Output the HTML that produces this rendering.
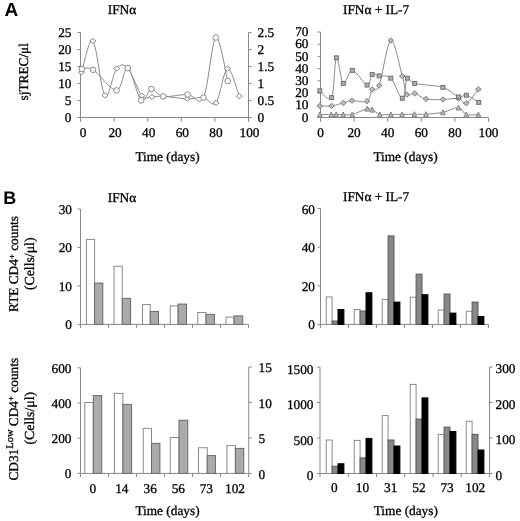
<!DOCTYPE html>
<html><head><meta charset="utf-8"><style>
html,body{margin:0;padding:0;background:#fff;}
svg{display:block;will-change:transform;}
text{font-family:"Liberation Serif", serif;fill:#000;stroke:#000;stroke-width:0.3px;text-rendering:geometricPrecision;}
</style></head><body>
<svg width="520" height="521" viewBox="0 0 520 521">
<rect width="520" height="521" fill="#fff"/>
<text x="4.4" y="16.3" style="font-family:Liberation Sans,sans-serif;font-weight:bold;stroke:none" font-size="19">A</text>
<text x="3.3" y="203.9" style="font-family:Liberation Sans,sans-serif;font-weight:bold;stroke:none" font-size="18">B</text>
<text x="107.75" y="13.75" text-anchor="start" font-size="13.3" >IFN&#945;</text>
<text x="343.00" y="13.80" text-anchor="start" font-size="13.3" >IFN&#945; + IL-7</text>
<text x="107.75" y="201.50" text-anchor="start" font-size="13.3" >IFN&#945;</text>
<text x="343.00" y="201.20" text-anchor="start" font-size="13.3" >IFN&#945; + IL-7</text>
<line x1="80.50" y1="32.50" x2="80.50" y2="117.50" stroke="#888888" stroke-width="1"/>
<line x1="80.50" y1="117.50" x2="248.50" y2="117.50" stroke="#888888" stroke-width="1"/>
<line x1="248.50" y1="32.50" x2="248.50" y2="117.50" stroke="#888888" stroke-width="1"/>
<line x1="77.50" y1="117.50" x2="80.50" y2="117.50" stroke="#888888" stroke-width="1"/>
<line x1="248.50" y1="117.50" x2="251.50" y2="117.50" stroke="#888888" stroke-width="1"/>
<text x="71.50" y="121.70" text-anchor="end" font-size="13.3" >0</text>
<text x="257.50" y="121.70" text-anchor="start" font-size="13.3" >0</text>
<line x1="77.50" y1="100.50" x2="80.50" y2="100.50" stroke="#888888" stroke-width="1"/>
<line x1="248.50" y1="100.50" x2="251.50" y2="100.50" stroke="#888888" stroke-width="1"/>
<text x="71.50" y="104.70" text-anchor="end" font-size="13.3" >5</text>
<text x="257.50" y="104.70" text-anchor="start" font-size="13.3" >0.5</text>
<line x1="77.50" y1="83.50" x2="80.50" y2="83.50" stroke="#888888" stroke-width="1"/>
<line x1="248.50" y1="83.50" x2="251.50" y2="83.50" stroke="#888888" stroke-width="1"/>
<text x="71.50" y="87.70" text-anchor="end" font-size="13.3" >10</text>
<text x="257.50" y="87.70" text-anchor="start" font-size="13.3" >1</text>
<line x1="77.50" y1="66.50" x2="80.50" y2="66.50" stroke="#888888" stroke-width="1"/>
<line x1="248.50" y1="66.50" x2="251.50" y2="66.50" stroke="#888888" stroke-width="1"/>
<text x="71.50" y="70.70" text-anchor="end" font-size="13.3" >15</text>
<text x="257.50" y="70.70" text-anchor="start" font-size="13.3" >1.5</text>
<line x1="77.50" y1="49.50" x2="80.50" y2="49.50" stroke="#888888" stroke-width="1"/>
<line x1="248.50" y1="49.50" x2="251.50" y2="49.50" stroke="#888888" stroke-width="1"/>
<text x="71.50" y="53.70" text-anchor="end" font-size="13.3" >20</text>
<text x="257.50" y="53.70" text-anchor="start" font-size="13.3" >2</text>
<line x1="77.50" y1="32.50" x2="80.50" y2="32.50" stroke="#888888" stroke-width="1"/>
<line x1="248.50" y1="32.50" x2="251.50" y2="32.50" stroke="#888888" stroke-width="1"/>
<text x="71.50" y="36.70" text-anchor="end" font-size="13.3" >25</text>
<text x="257.50" y="36.70" text-anchor="start" font-size="13.3" >2.5</text>
<line x1="80.50" y1="117.50" x2="80.50" y2="121.70" stroke="#888888" stroke-width="1"/>
<text x="83.00" y="137.00" text-anchor="middle" font-size="13.3" >0</text>
<line x1="114.10" y1="117.50" x2="114.10" y2="121.70" stroke="#888888" stroke-width="1"/>
<text x="115.10" y="137.00" text-anchor="middle" font-size="13.3" >20</text>
<line x1="147.70" y1="117.50" x2="147.70" y2="121.70" stroke="#888888" stroke-width="1"/>
<text x="148.70" y="137.00" text-anchor="middle" font-size="13.3" >40</text>
<line x1="181.30" y1="117.50" x2="181.30" y2="121.70" stroke="#888888" stroke-width="1"/>
<text x="182.30" y="137.00" text-anchor="middle" font-size="13.3" >60</text>
<line x1="214.90" y1="117.50" x2="214.90" y2="121.70" stroke="#888888" stroke-width="1"/>
<text x="215.90" y="137.00" text-anchor="middle" font-size="13.3" >80</text>
<line x1="248.50" y1="117.50" x2="248.50" y2="121.70" stroke="#888888" stroke-width="1"/>
<text x="249.50" y="137.00" text-anchor="middle" font-size="13.3" >100</text>
<text x="167.50" y="160.80" text-anchor="middle" font-size="13.3" >Time (days)</text>
<text transform="translate(27.5,71.75) rotate(-90)" text-anchor="middle" font-size="13.3">sjTREC/&#956;l</text>
<path d="M81.50,72.30 C83.39,67.08 88.95,37.15 92.85,41.00 C96.75,44.85 100.92,90.82 104.90,95.40 C108.88,99.98 112.93,73.05 116.75,68.50 C120.57,63.95 123.63,63.58 127.80,68.10 C131.97,72.62 137.72,90.80 141.75,95.60 C145.78,100.40 148.39,96.78 152.00,96.90 C155.61,97.02 157.52,95.98 163.40,96.30 C169.28,96.62 180.62,98.58 187.30,98.80 C193.98,99.02 198.72,96.93 203.50,97.60 C208.28,98.27 212.00,107.63 216.00,102.80 C220.00,97.97 223.62,69.69 227.50,68.60 C231.38,67.51 237.33,91.64 239.30,96.25" fill="none" stroke="#8a8a8a" stroke-width="1"/>
<path d="M82.00,69.00 C83.85,69.13 87.35,66.23 93.10,69.80 C98.85,73.37 110.72,90.68 116.50,90.40 C122.28,90.12 123.70,66.43 127.80,68.10 C131.90,69.77 137.17,96.92 141.10,100.40 C145.03,103.88 147.72,89.67 151.40,89.00 C155.08,88.33 157.17,95.48 163.20,96.40 C169.23,97.32 180.88,94.30 187.60,94.50 C194.32,94.70 198.80,107.10 203.50,97.60 C208.20,88.10 211.77,40.27 215.80,37.50 C219.83,34.73 225.72,73.75 227.70,81.00" fill="none" stroke="#8a8a8a" stroke-width="1"/>
<path d="M78.40,72.30 L81.50,69.80 L84.60,72.30 L81.50,74.80 Z" fill="#fff" stroke="#8a8a8a" stroke-width="1"/>
<path d="M89.75,41.00 L92.85,38.50 L95.95,41.00 L92.85,43.50 Z" fill="#fff" stroke="#8a8a8a" stroke-width="1"/>
<path d="M101.80,95.40 L104.90,92.90 L108.00,95.40 L104.90,97.90 Z" fill="#fff" stroke="#8a8a8a" stroke-width="1"/>
<path d="M113.65,68.50 L116.75,66.00 L119.85,68.50 L116.75,71.00 Z" fill="#fff" stroke="#8a8a8a" stroke-width="1"/>
<path d="M124.70,68.10 L127.80,65.60 L130.90,68.10 L127.80,70.60 Z" fill="#fff" stroke="#8a8a8a" stroke-width="1"/>
<path d="M138.65,95.60 L141.75,93.10 L144.85,95.60 L141.75,98.10 Z" fill="#fff" stroke="#8a8a8a" stroke-width="1"/>
<path d="M148.90,96.90 L152.00,94.40 L155.10,96.90 L152.00,99.40 Z" fill="#fff" stroke="#8a8a8a" stroke-width="1"/>
<path d="M160.30,96.30 L163.40,93.80 L166.50,96.30 L163.40,98.80 Z" fill="#fff" stroke="#8a8a8a" stroke-width="1"/>
<path d="M184.20,98.80 L187.30,96.30 L190.40,98.80 L187.30,101.30 Z" fill="#fff" stroke="#8a8a8a" stroke-width="1"/>
<path d="M200.40,97.60 L203.50,95.10 L206.60,97.60 L203.50,100.10 Z" fill="#fff" stroke="#8a8a8a" stroke-width="1"/>
<path d="M212.90,102.80 L216.00,100.30 L219.10,102.80 L216.00,105.30 Z" fill="#fff" stroke="#8a8a8a" stroke-width="1"/>
<path d="M224.40,68.60 L227.50,66.10 L230.60,68.60 L227.50,71.10 Z" fill="#fff" stroke="#8a8a8a" stroke-width="1"/>
<path d="M236.20,96.25 L239.30,93.75 L242.40,96.25 L239.30,98.75 Z" fill="#fff" stroke="#8a8a8a" stroke-width="1"/>
<circle cx="82.00" cy="69.00" r="2.8" fill="#fff" stroke="#8a8a8a" stroke-width="1"/>
<circle cx="93.10" cy="69.80" r="2.8" fill="#fff" stroke="#8a8a8a" stroke-width="1"/>
<circle cx="116.50" cy="90.40" r="2.8" fill="#fff" stroke="#8a8a8a" stroke-width="1"/>
<circle cx="127.80" cy="68.10" r="2.8" fill="#fff" stroke="#8a8a8a" stroke-width="1"/>
<circle cx="141.10" cy="100.40" r="2.8" fill="#fff" stroke="#8a8a8a" stroke-width="1"/>
<circle cx="151.40" cy="89.00" r="2.8" fill="#fff" stroke="#8a8a8a" stroke-width="1"/>
<circle cx="163.20" cy="96.40" r="2.8" fill="#fff" stroke="#8a8a8a" stroke-width="1"/>
<circle cx="187.60" cy="94.50" r="2.8" fill="#fff" stroke="#8a8a8a" stroke-width="1"/>
<circle cx="203.50" cy="97.60" r="2.8" fill="#fff" stroke="#8a8a8a" stroke-width="1"/>
<circle cx="215.80" cy="37.50" r="2.8" fill="#fff" stroke="#8a8a8a" stroke-width="1"/>
<circle cx="227.70" cy="81.00" r="2.8" fill="#fff" stroke="#8a8a8a" stroke-width="1"/>
<line x1="320.50" y1="32.00" x2="320.50" y2="117.50" stroke="#888888" stroke-width="1"/>
<line x1="320.50" y1="117.50" x2="488.50" y2="117.50" stroke="#888888" stroke-width="1"/>
<line x1="317.50" y1="117.50" x2="320.50" y2="117.50" stroke="#888888" stroke-width="1"/>
<text x="308.50" y="121.70" text-anchor="end" font-size="13.3" >0</text>
<line x1="317.50" y1="105.29" x2="320.50" y2="105.29" stroke="#888888" stroke-width="1"/>
<text x="308.50" y="109.49" text-anchor="end" font-size="13.3" >10</text>
<line x1="317.50" y1="93.07" x2="320.50" y2="93.07" stroke="#888888" stroke-width="1"/>
<text x="308.50" y="97.27" text-anchor="end" font-size="13.3" >20</text>
<line x1="317.50" y1="80.86" x2="320.50" y2="80.86" stroke="#888888" stroke-width="1"/>
<text x="308.50" y="85.06" text-anchor="end" font-size="13.3" >30</text>
<line x1="317.50" y1="68.64" x2="320.50" y2="68.64" stroke="#888888" stroke-width="1"/>
<text x="308.50" y="72.84" text-anchor="end" font-size="13.3" >40</text>
<line x1="317.50" y1="56.43" x2="320.50" y2="56.43" stroke="#888888" stroke-width="1"/>
<text x="308.50" y="60.63" text-anchor="end" font-size="13.3" >50</text>
<line x1="317.50" y1="44.21" x2="320.50" y2="44.21" stroke="#888888" stroke-width="1"/>
<text x="308.50" y="48.41" text-anchor="end" font-size="13.3" >60</text>
<line x1="317.50" y1="32.00" x2="320.50" y2="32.00" stroke="#888888" stroke-width="1"/>
<text x="308.50" y="36.20" text-anchor="end" font-size="13.3" >70</text>
<line x1="320.50" y1="117.50" x2="320.50" y2="121.70" stroke="#888888" stroke-width="1"/>
<text x="320.50" y="137.00" text-anchor="middle" font-size="13.3" >0</text>
<line x1="354.10" y1="117.50" x2="354.10" y2="121.70" stroke="#888888" stroke-width="1"/>
<text x="354.10" y="137.00" text-anchor="middle" font-size="13.3" >20</text>
<line x1="387.70" y1="117.50" x2="387.70" y2="121.70" stroke="#888888" stroke-width="1"/>
<text x="387.70" y="137.00" text-anchor="middle" font-size="13.3" >40</text>
<line x1="421.30" y1="117.50" x2="421.30" y2="121.70" stroke="#888888" stroke-width="1"/>
<text x="421.30" y="137.00" text-anchor="middle" font-size="13.3" >60</text>
<line x1="454.90" y1="117.50" x2="454.90" y2="121.70" stroke="#888888" stroke-width="1"/>
<text x="454.90" y="137.00" text-anchor="middle" font-size="13.3" >80</text>
<line x1="488.50" y1="117.50" x2="488.50" y2="121.70" stroke="#888888" stroke-width="1"/>
<text x="488.50" y="137.00" text-anchor="middle" font-size="13.3" >100</text>
<text x="405.50" y="160.80" text-anchor="middle" font-size="13.3" >Time (days)</text>
<path d="M319.80,114.50 C321.71,114.50 328.51,114.50 331.25,114.50 C333.99,114.50 334.27,114.50 336.25,114.50 C338.23,114.50 340.43,114.50 343.10,114.50 C345.77,114.50 348.23,115.48 352.25,114.50 C356.27,113.52 363.86,109.42 367.20,108.60 C370.54,107.78 370.20,108.63 372.30,109.60 C374.40,110.57 376.70,113.58 379.80,114.40 C382.90,115.22 387.18,114.50 390.90,114.50 C394.62,114.50 398.18,114.45 402.10,114.40 C406.02,114.35 410.42,114.23 414.40,114.20 C418.38,114.17 421.25,114.52 426.00,114.20 C430.75,113.88 437.48,113.40 442.90,112.30 C448.32,111.20 454.60,107.23 458.50,107.60 C462.40,107.97 462.98,113.35 466.30,114.50 C469.62,115.65 476.38,114.50 478.40,114.50" fill="none" stroke="#8a8a8a" stroke-width="1"/>
<path d="M319.80,105.90 C321.77,105.90 327.68,106.40 331.60,105.90 C335.52,105.40 339.90,103.77 343.30,102.90 C346.70,102.03 348.03,100.98 352.00,100.70 C355.97,100.42 363.73,103.08 367.10,101.20 C370.47,99.32 370.18,92.00 372.20,89.40 C374.22,86.80 376.10,93.75 379.20,85.60 C382.30,77.45 386.95,42.08 390.80,40.50 C394.65,38.92 399.62,67.08 402.30,76.10 C404.98,85.12 404.83,91.72 406.90,94.60 C408.97,97.48 411.52,92.67 414.70,93.40 C417.88,94.13 421.30,97.98 426.00,99.00 C430.70,100.02 437.48,99.57 442.90,99.50 C448.32,99.43 454.60,97.97 458.50,98.60 C462.40,99.23 462.98,104.83 466.30,103.30 C469.62,101.77 476.38,91.72 478.40,89.40" fill="none" stroke="#8a8a8a" stroke-width="1"/>
<path d="M319.80,90.80 C321.77,91.93 328.83,103.10 331.60,97.60 C334.37,92.10 334.45,60.17 336.40,57.80 C338.35,55.43 340.65,81.30 343.30,83.40 C345.95,85.50 348.33,70.12 352.30,70.40 C356.27,70.68 363.78,84.43 367.10,85.10 C370.42,85.77 370.18,75.93 372.20,74.40 C374.22,72.87 376.10,75.27 379.20,75.90 C382.30,76.53 386.95,74.47 390.80,78.20 C394.65,81.93 399.55,98.30 402.30,98.30 C405.05,98.30 405.23,80.68 407.30,78.20 C409.37,75.72 408.77,81.87 414.70,83.40 C420.63,84.93 435.60,85.15 442.90,87.40 C450.20,89.65 454.60,95.60 458.50,96.90 C462.40,98.20 462.93,94.28 466.30,95.20 C469.67,96.12 476.63,101.20 478.70,102.40" fill="none" stroke="#8a8a8a" stroke-width="1"/>
<path d="M317.45,116.97 L319.80,112.03 L322.15,116.97 Z" fill="#c0c0c0" stroke="#808080" stroke-width="1"/>
<path d="M328.90,116.97 L331.25,112.03 L333.60,116.97 Z" fill="#c0c0c0" stroke="#808080" stroke-width="1"/>
<path d="M333.90,116.97 L336.25,112.03 L338.60,116.97 Z" fill="#c0c0c0" stroke="#808080" stroke-width="1"/>
<path d="M340.75,116.97 L343.10,112.03 L345.45,116.97 Z" fill="#c0c0c0" stroke="#808080" stroke-width="1"/>
<path d="M349.90,116.97 L352.25,112.03 L354.60,116.97 Z" fill="#c0c0c0" stroke="#808080" stroke-width="1"/>
<path d="M364.85,111.07 L367.20,106.13 L369.55,111.07 Z" fill="#c0c0c0" stroke="#808080" stroke-width="1"/>
<path d="M369.95,112.07 L372.30,107.13 L374.65,112.07 Z" fill="#c0c0c0" stroke="#808080" stroke-width="1"/>
<path d="M377.45,116.87 L379.80,111.93 L382.15,116.87 Z" fill="#c0c0c0" stroke="#808080" stroke-width="1"/>
<path d="M388.55,116.97 L390.90,112.03 L393.25,116.97 Z" fill="#c0c0c0" stroke="#808080" stroke-width="1"/>
<path d="M399.75,116.87 L402.10,111.93 L404.45,116.87 Z" fill="#c0c0c0" stroke="#808080" stroke-width="1"/>
<path d="M412.05,116.67 L414.40,111.73 L416.75,116.67 Z" fill="#c0c0c0" stroke="#808080" stroke-width="1"/>
<path d="M423.65,116.67 L426.00,111.73 L428.35,116.67 Z" fill="#c0c0c0" stroke="#808080" stroke-width="1"/>
<path d="M440.55,114.77 L442.90,109.83 L445.25,114.77 Z" fill="#c0c0c0" stroke="#808080" stroke-width="1"/>
<path d="M456.15,110.07 L458.50,105.13 L460.85,110.07 Z" fill="#c0c0c0" stroke="#808080" stroke-width="1"/>
<path d="M463.95,116.97 L466.30,112.03 L468.65,116.97 Z" fill="#c0c0c0" stroke="#808080" stroke-width="1"/>
<path d="M476.05,116.97 L478.40,112.03 L480.75,116.97 Z" fill="#c0c0c0" stroke="#808080" stroke-width="1"/>
<path d="M317.00,105.90 L319.80,103.30 L322.60,105.90 L319.80,108.50 Z" fill="#bcbcbc" stroke="#7c7c7c" stroke-width="1"/>
<path d="M328.80,105.90 L331.60,103.30 L334.40,105.90 L331.60,108.50 Z" fill="#bcbcbc" stroke="#7c7c7c" stroke-width="1"/>
<path d="M340.50,102.90 L343.30,100.30 L346.10,102.90 L343.30,105.50 Z" fill="#bcbcbc" stroke="#7c7c7c" stroke-width="1"/>
<path d="M349.20,100.70 L352.00,98.10 L354.80,100.70 L352.00,103.30 Z" fill="#bcbcbc" stroke="#7c7c7c" stroke-width="1"/>
<path d="M364.30,101.20 L367.10,98.60 L369.90,101.20 L367.10,103.80 Z" fill="#bcbcbc" stroke="#7c7c7c" stroke-width="1"/>
<path d="M369.40,89.40 L372.20,86.80 L375.00,89.40 L372.20,92.00 Z" fill="#bcbcbc" stroke="#7c7c7c" stroke-width="1"/>
<path d="M376.40,85.60 L379.20,83.00 L382.00,85.60 L379.20,88.20 Z" fill="#bcbcbc" stroke="#7c7c7c" stroke-width="1"/>
<path d="M388.00,40.50 L390.80,37.90 L393.60,40.50 L390.80,43.10 Z" fill="#bcbcbc" stroke="#7c7c7c" stroke-width="1"/>
<path d="M399.50,76.10 L402.30,73.50 L405.10,76.10 L402.30,78.70 Z" fill="#bcbcbc" stroke="#7c7c7c" stroke-width="1"/>
<path d="M404.10,94.60 L406.90,92.00 L409.70,94.60 L406.90,97.20 Z" fill="#bcbcbc" stroke="#7c7c7c" stroke-width="1"/>
<path d="M411.90,93.40 L414.70,90.80 L417.50,93.40 L414.70,96.00 Z" fill="#bcbcbc" stroke="#7c7c7c" stroke-width="1"/>
<path d="M423.20,99.00 L426.00,96.40 L428.80,99.00 L426.00,101.60 Z" fill="#bcbcbc" stroke="#7c7c7c" stroke-width="1"/>
<path d="M440.10,99.50 L442.90,96.90 L445.70,99.50 L442.90,102.10 Z" fill="#bcbcbc" stroke="#7c7c7c" stroke-width="1"/>
<path d="M455.70,98.60 L458.50,96.00 L461.30,98.60 L458.50,101.20 Z" fill="#bcbcbc" stroke="#7c7c7c" stroke-width="1"/>
<path d="M463.50,103.30 L466.30,100.70 L469.10,103.30 L466.30,105.90 Z" fill="#bcbcbc" stroke="#7c7c7c" stroke-width="1"/>
<path d="M475.60,89.40 L478.40,86.80 L481.20,89.40 L478.40,92.00 Z" fill="#bcbcbc" stroke="#7c7c7c" stroke-width="1"/>
<rect x="317.85" y="88.85" width="3.9" height="3.9" fill="#b0b0b0" stroke="#707070" stroke-width="1"/>
<rect x="329.65" y="95.65" width="3.9" height="3.9" fill="#b0b0b0" stroke="#707070" stroke-width="1"/>
<rect x="334.45" y="55.85" width="3.9" height="3.9" fill="#b0b0b0" stroke="#707070" stroke-width="1"/>
<rect x="341.35" y="81.45" width="3.9" height="3.9" fill="#b0b0b0" stroke="#707070" stroke-width="1"/>
<rect x="350.35" y="68.45" width="3.9" height="3.9" fill="#b0b0b0" stroke="#707070" stroke-width="1"/>
<rect x="365.15" y="83.15" width="3.9" height="3.9" fill="#b0b0b0" stroke="#707070" stroke-width="1"/>
<rect x="370.25" y="72.45" width="3.9" height="3.9" fill="#b0b0b0" stroke="#707070" stroke-width="1"/>
<rect x="377.25" y="73.95" width="3.9" height="3.9" fill="#b0b0b0" stroke="#707070" stroke-width="1"/>
<rect x="388.85" y="76.25" width="3.9" height="3.9" fill="#b0b0b0" stroke="#707070" stroke-width="1"/>
<rect x="400.35" y="96.35" width="3.9" height="3.9" fill="#b0b0b0" stroke="#707070" stroke-width="1"/>
<rect x="405.35" y="76.25" width="3.9" height="3.9" fill="#b0b0b0" stroke="#707070" stroke-width="1"/>
<rect x="412.75" y="81.45" width="3.9" height="3.9" fill="#b0b0b0" stroke="#707070" stroke-width="1"/>
<rect x="440.95" y="85.45" width="3.9" height="3.9" fill="#b0b0b0" stroke="#707070" stroke-width="1"/>
<rect x="456.55" y="94.95" width="3.9" height="3.9" fill="#b0b0b0" stroke="#707070" stroke-width="1"/>
<rect x="464.35" y="93.25" width="3.9" height="3.9" fill="#b0b0b0" stroke="#707070" stroke-width="1"/>
<rect x="476.75" y="100.45" width="3.9" height="3.9" fill="#b0b0b0" stroke="#707070" stroke-width="1"/>
<line x1="80.50" y1="209.00" x2="80.50" y2="324.40" stroke="#888888" stroke-width="1"/>
<line x1="80.50" y1="324.40" x2="248.50" y2="324.40" stroke="#888888" stroke-width="1"/>
<line x1="77.50" y1="324.40" x2="80.50" y2="324.40" stroke="#888888" stroke-width="1"/>
<text x="72.00" y="329.40" text-anchor="end" font-size="13.3" >0</text>
<line x1="77.50" y1="285.93" x2="80.50" y2="285.93" stroke="#888888" stroke-width="1"/>
<text x="72.00" y="290.93" text-anchor="end" font-size="13.3" >10</text>
<line x1="77.50" y1="247.47" x2="80.50" y2="247.47" stroke="#888888" stroke-width="1"/>
<text x="72.00" y="252.47" text-anchor="end" font-size="13.3" >20</text>
<line x1="77.50" y1="209.00" x2="80.50" y2="209.00" stroke="#888888" stroke-width="1"/>
<text x="72.00" y="214.00" text-anchor="end" font-size="13.3" >30</text>
<line x1="80.50" y1="324.40" x2="80.50" y2="327.90" stroke="#888888" stroke-width="1"/>
<line x1="108.50" y1="324.40" x2="108.50" y2="327.90" stroke="#888888" stroke-width="1"/>
<line x1="136.50" y1="324.40" x2="136.50" y2="327.90" stroke="#888888" stroke-width="1"/>
<line x1="164.50" y1="324.40" x2="164.50" y2="327.90" stroke="#888888" stroke-width="1"/>
<line x1="192.50" y1="324.40" x2="192.50" y2="327.90" stroke="#888888" stroke-width="1"/>
<line x1="220.50" y1="324.40" x2="220.50" y2="327.90" stroke="#888888" stroke-width="1"/>
<line x1="248.50" y1="324.40" x2="248.50" y2="327.90" stroke="#888888" stroke-width="1"/>
<text transform="translate(18.4,264) rotate(-90)" text-anchor="middle" font-size="13.3">RTE CD4<tspan dy="-3.6" font-size="9">+</tspan><tspan dy="3.6"> counts</tspan></text>
<text transform="translate(33.6,263.8) rotate(-90)" text-anchor="middle" font-size="13.8">(Cells/&#956;l)</text>
<rect x="86.40" y="239.40" width="8.20" height="85.00" fill="#ffffff" stroke="#8a8a8a" stroke-width="1"/>
<rect x="94.60" y="283.10" width="8.20" height="41.30" fill="#aaaaaa" stroke="#6a6a6a" stroke-width="1"/>
<rect x="114.00" y="266.25" width="8.25" height="58.15" fill="#ffffff" stroke="#8a8a8a" stroke-width="1"/>
<rect x="122.25" y="298.40" width="8.35" height="26.00" fill="#aaaaaa" stroke="#6a6a6a" stroke-width="1"/>
<rect x="142.50" y="304.60" width="7.75" height="19.80" fill="#ffffff" stroke="#8a8a8a" stroke-width="1"/>
<rect x="150.25" y="311.50" width="8.25" height="12.90" fill="#aaaaaa" stroke="#6a6a6a" stroke-width="1"/>
<rect x="170.25" y="305.90" width="7.85" height="18.50" fill="#ffffff" stroke="#8a8a8a" stroke-width="1"/>
<rect x="178.10" y="304.10" width="8.40" height="20.30" fill="#aaaaaa" stroke="#6a6a6a" stroke-width="1"/>
<rect x="197.75" y="312.50" width="8.25" height="11.90" fill="#ffffff" stroke="#8a8a8a" stroke-width="1"/>
<rect x="206.00" y="314.40" width="8.40" height="10.00" fill="#aaaaaa" stroke="#6a6a6a" stroke-width="1"/>
<rect x="226.00" y="317.10" width="8.00" height="7.30" fill="#ffffff" stroke="#8a8a8a" stroke-width="1"/>
<rect x="234.00" y="315.90" width="8.75" height="8.50" fill="#aaaaaa" stroke="#6a6a6a" stroke-width="1"/>
<line x1="320.50" y1="208.50" x2="320.50" y2="324.40" stroke="#888888" stroke-width="1"/>
<line x1="320.50" y1="324.40" x2="488.50" y2="324.40" stroke="#888888" stroke-width="1"/>
<line x1="317.50" y1="324.40" x2="320.50" y2="324.40" stroke="#888888" stroke-width="1"/>
<text x="315.00" y="329.40" text-anchor="end" font-size="13.3" >0</text>
<line x1="317.50" y1="285.77" x2="320.50" y2="285.77" stroke="#888888" stroke-width="1"/>
<text x="315.00" y="290.77" text-anchor="end" font-size="13.3" >20</text>
<line x1="317.50" y1="247.13" x2="320.50" y2="247.13" stroke="#888888" stroke-width="1"/>
<text x="315.00" y="252.13" text-anchor="end" font-size="13.3" >40</text>
<line x1="317.50" y1="208.50" x2="320.50" y2="208.50" stroke="#888888" stroke-width="1"/>
<text x="315.00" y="213.50" text-anchor="end" font-size="13.3" >60</text>
<line x1="320.50" y1="324.40" x2="320.50" y2="327.90" stroke="#888888" stroke-width="1"/>
<line x1="348.50" y1="324.40" x2="348.50" y2="327.90" stroke="#888888" stroke-width="1"/>
<line x1="376.50" y1="324.40" x2="376.50" y2="327.90" stroke="#888888" stroke-width="1"/>
<line x1="404.50" y1="324.40" x2="404.50" y2="327.90" stroke="#888888" stroke-width="1"/>
<line x1="432.50" y1="324.40" x2="432.50" y2="327.90" stroke="#888888" stroke-width="1"/>
<line x1="460.50" y1="324.40" x2="460.50" y2="327.90" stroke="#888888" stroke-width="1"/>
<line x1="488.50" y1="324.40" x2="488.50" y2="327.90" stroke="#888888" stroke-width="1"/>
<rect x="326.25" y="296.90" width="5.85" height="27.50" fill="#ffffff" stroke="#8a8a8a" stroke-width="1"/>
<rect x="332.10" y="321.00" width="5.90" height="3.40" fill="#888888" stroke="#5a5a5a" stroke-width="1"/>
<rect x="338.00" y="309.50" width="5.90" height="14.90" fill="#000000" stroke="#000000" stroke-width="1"/>
<rect x="354.25" y="309.50" width="5.85" height="14.90" fill="#ffffff" stroke="#8a8a8a" stroke-width="1"/>
<rect x="360.10" y="311.00" width="5.90" height="13.40" fill="#888888" stroke="#5a5a5a" stroke-width="1"/>
<rect x="366.00" y="292.75" width="5.90" height="31.65" fill="#000000" stroke="#000000" stroke-width="1"/>
<rect x="382.25" y="299.40" width="5.85" height="25.00" fill="#ffffff" stroke="#8a8a8a" stroke-width="1"/>
<rect x="388.10" y="235.90" width="5.90" height="88.50" fill="#888888" stroke="#5a5a5a" stroke-width="1"/>
<rect x="394.00" y="302.10" width="5.90" height="22.30" fill="#000000" stroke="#000000" stroke-width="1"/>
<rect x="410.25" y="297.20" width="5.85" height="27.20" fill="#ffffff" stroke="#8a8a8a" stroke-width="1"/>
<rect x="416.10" y="274.10" width="5.90" height="50.30" fill="#888888" stroke="#5a5a5a" stroke-width="1"/>
<rect x="422.00" y="294.70" width="5.90" height="29.70" fill="#000000" stroke="#000000" stroke-width="1"/>
<rect x="438.25" y="310.00" width="5.85" height="14.40" fill="#ffffff" stroke="#8a8a8a" stroke-width="1"/>
<rect x="444.10" y="294.00" width="5.90" height="30.40" fill="#888888" stroke="#5a5a5a" stroke-width="1"/>
<rect x="450.00" y="313.10" width="5.90" height="11.30" fill="#000000" stroke="#000000" stroke-width="1"/>
<rect x="466.25" y="311.25" width="5.85" height="13.15" fill="#ffffff" stroke="#8a8a8a" stroke-width="1"/>
<rect x="472.10" y="302.10" width="5.90" height="22.30" fill="#888888" stroke="#5a5a5a" stroke-width="1"/>
<rect x="478.00" y="316.60" width="5.90" height="7.80" fill="#000000" stroke="#000000" stroke-width="1"/>
<line x1="80.50" y1="367.80" x2="80.50" y2="473.40" stroke="#888888" stroke-width="1"/>
<line x1="80.50" y1="473.40" x2="248.75" y2="473.40" stroke="#888888" stroke-width="1"/>
<line x1="248.75" y1="367.00" x2="248.75" y2="473.40" stroke="#888888" stroke-width="1"/>
<line x1="77.50" y1="473.40" x2="80.50" y2="473.40" stroke="#888888" stroke-width="1"/>
<text x="71.50" y="478.10" text-anchor="end" font-size="13.3" >0</text>
<line x1="77.50" y1="438.20" x2="80.50" y2="438.20" stroke="#888888" stroke-width="1"/>
<text x="71.50" y="442.90" text-anchor="end" font-size="13.3" >200</text>
<line x1="77.50" y1="403.00" x2="80.50" y2="403.00" stroke="#888888" stroke-width="1"/>
<text x="71.50" y="407.70" text-anchor="end" font-size="13.3" >400</text>
<line x1="77.50" y1="367.80" x2="80.50" y2="367.80" stroke="#888888" stroke-width="1"/>
<text x="71.50" y="372.50" text-anchor="end" font-size="13.3" >600</text>
<line x1="248.75" y1="473.40" x2="251.75" y2="473.40" stroke="#888888" stroke-width="1"/>
<text x="258.50" y="478.60" text-anchor="start" font-size="13.3" >0</text>
<line x1="248.75" y1="437.93" x2="251.75" y2="437.93" stroke="#888888" stroke-width="1"/>
<text x="258.50" y="443.13" text-anchor="start" font-size="13.3" >5</text>
<line x1="248.75" y1="402.47" x2="251.75" y2="402.47" stroke="#888888" stroke-width="1"/>
<text x="258.50" y="407.67" text-anchor="start" font-size="13.3" >10</text>
<line x1="248.75" y1="367.00" x2="251.75" y2="367.00" stroke="#888888" stroke-width="1"/>
<text x="258.50" y="372.20" text-anchor="start" font-size="13.3" >15</text>
<line x1="80.50" y1="473.40" x2="80.50" y2="476.90" stroke="#888888" stroke-width="1"/>
<line x1="108.50" y1="473.40" x2="108.50" y2="476.90" stroke="#888888" stroke-width="1"/>
<line x1="136.50" y1="473.40" x2="136.50" y2="476.90" stroke="#888888" stroke-width="1"/>
<line x1="164.50" y1="473.40" x2="164.50" y2="476.90" stroke="#888888" stroke-width="1"/>
<line x1="192.50" y1="473.40" x2="192.50" y2="476.90" stroke="#888888" stroke-width="1"/>
<line x1="220.50" y1="473.40" x2="220.50" y2="476.90" stroke="#888888" stroke-width="1"/>
<line x1="248.50" y1="473.40" x2="248.50" y2="476.90" stroke="#888888" stroke-width="1"/>
<text x="92.90" y="492.50" text-anchor="middle" font-size="13.3" >0</text>
<text x="121.80" y="492.50" text-anchor="middle" font-size="13.3" >14</text>
<text x="150.20" y="492.50" text-anchor="middle" font-size="13.3" >36</text>
<text x="178.30" y="492.50" text-anchor="middle" font-size="13.3" >56</text>
<text x="206.30" y="492.50" text-anchor="middle" font-size="13.3" >73</text>
<text x="235.00" y="492.50" text-anchor="middle" font-size="13.3" >102</text>
<text x="167.50" y="515.20" text-anchor="middle" font-size="13.3" >Time (days)</text>
<text transform="translate(18.0,419.2) rotate(-90)" text-anchor="middle" font-size="13.3">CD31<tspan dy="-5" font-size="10.5">Low</tspan><tspan dy="5"> CD4</tspan><tspan dy="-3.6" font-size="9">+</tspan><tspan dy="3.6"> counts</tspan></text>
<text transform="translate(33.6,418.2) rotate(-90)" text-anchor="middle" font-size="13.8">(Cells/&#956;l)</text>
<rect x="84.80" y="402.50" width="8.50" height="70.90" fill="#ffffff" stroke="#8a8a8a" stroke-width="1"/>
<rect x="93.30" y="395.60" width="8.40" height="77.80" fill="#aaaaaa" stroke="#6a6a6a" stroke-width="1"/>
<rect x="114.40" y="393.40" width="8.50" height="80.00" fill="#ffffff" stroke="#8a8a8a" stroke-width="1"/>
<rect x="122.90" y="404.40" width="8.70" height="69.00" fill="#aaaaaa" stroke="#6a6a6a" stroke-width="1"/>
<rect x="143.25" y="428.40" width="8.25" height="45.00" fill="#ffffff" stroke="#8a8a8a" stroke-width="1"/>
<rect x="151.50" y="443.40" width="8.40" height="30.00" fill="#aaaaaa" stroke="#6a6a6a" stroke-width="1"/>
<rect x="170.25" y="437.50" width="8.75" height="35.90" fill="#ffffff" stroke="#8a8a8a" stroke-width="1"/>
<rect x="179.00" y="420.25" width="8.75" height="53.15" fill="#aaaaaa" stroke="#6a6a6a" stroke-width="1"/>
<rect x="198.50" y="447.75" width="8.75" height="25.65" fill="#ffffff" stroke="#8a8a8a" stroke-width="1"/>
<rect x="207.25" y="455.60" width="8.15" height="17.80" fill="#aaaaaa" stroke="#6a6a6a" stroke-width="1"/>
<rect x="226.90" y="445.60" width="8.50" height="27.80" fill="#ffffff" stroke="#8a8a8a" stroke-width="1"/>
<rect x="235.40" y="448.40" width="8.35" height="25.00" fill="#aaaaaa" stroke="#6a6a6a" stroke-width="1"/>
<line x1="320.00" y1="367.00" x2="320.00" y2="473.50" stroke="#888888" stroke-width="1"/>
<line x1="320.00" y1="473.50" x2="489.50" y2="473.50" stroke="#888888" stroke-width="1"/>
<line x1="489.50" y1="367.00" x2="489.50" y2="473.50" stroke="#888888" stroke-width="1"/>
<line x1="317.00" y1="473.50" x2="320.00" y2="473.50" stroke="#888888" stroke-width="1"/>
<text x="313.50" y="480.40" text-anchor="end" font-size="13.3" >0</text>
<line x1="489.50" y1="473.50" x2="492.50" y2="473.50" stroke="#888888" stroke-width="1"/>
<text x="495.50" y="479.90" text-anchor="start" font-size="13.3" >0</text>
<line x1="317.00" y1="438.00" x2="320.00" y2="438.00" stroke="#888888" stroke-width="1"/>
<text x="313.50" y="444.90" text-anchor="end" font-size="13.3" >500</text>
<line x1="489.50" y1="438.00" x2="492.50" y2="438.00" stroke="#888888" stroke-width="1"/>
<text x="495.50" y="444.40" text-anchor="start" font-size="13.3" >100</text>
<line x1="317.00" y1="402.50" x2="320.00" y2="402.50" stroke="#888888" stroke-width="1"/>
<text x="313.50" y="409.40" text-anchor="end" font-size="13.3" >1000</text>
<line x1="489.50" y1="402.50" x2="492.50" y2="402.50" stroke="#888888" stroke-width="1"/>
<text x="495.50" y="408.90" text-anchor="start" font-size="13.3" >200</text>
<line x1="317.00" y1="367.00" x2="320.00" y2="367.00" stroke="#888888" stroke-width="1"/>
<text x="313.50" y="373.90" text-anchor="end" font-size="13.3" >1500</text>
<line x1="489.50" y1="367.00" x2="492.50" y2="367.00" stroke="#888888" stroke-width="1"/>
<text x="495.50" y="373.40" text-anchor="start" font-size="13.3" >300</text>
<line x1="320.00" y1="473.50" x2="320.00" y2="477.00" stroke="#888888" stroke-width="1"/>
<line x1="348.25" y1="473.50" x2="348.25" y2="477.00" stroke="#888888" stroke-width="1"/>
<line x1="376.50" y1="473.50" x2="376.50" y2="477.00" stroke="#888888" stroke-width="1"/>
<line x1="404.75" y1="473.50" x2="404.75" y2="477.00" stroke="#888888" stroke-width="1"/>
<line x1="433.00" y1="473.50" x2="433.00" y2="477.00" stroke="#888888" stroke-width="1"/>
<line x1="461.25" y1="473.50" x2="461.25" y2="477.00" stroke="#888888" stroke-width="1"/>
<line x1="489.50" y1="473.50" x2="489.50" y2="477.00" stroke="#888888" stroke-width="1"/>
<text x="334.30" y="492.30" text-anchor="middle" font-size="13.3" >0</text>
<text x="362.50" y="492.30" text-anchor="middle" font-size="13.3" >10</text>
<text x="390.70" y="492.30" text-anchor="middle" font-size="13.3" >31</text>
<text x="418.90" y="492.30" text-anchor="middle" font-size="13.3" >52</text>
<text x="447.10" y="492.30" text-anchor="middle" font-size="13.3" >73</text>
<text x="475.30" y="492.30" text-anchor="middle" font-size="13.3" >102</text>
<text x="405.80" y="515.20" text-anchor="middle" font-size="13.3" >Time (days)</text>
<rect x="326.25" y="440.00" width="5.85" height="33.50" fill="#ffffff" stroke="#8a8a8a" stroke-width="1"/>
<rect x="332.10" y="466.25" width="5.90" height="7.25" fill="#888888" stroke="#5a5a5a" stroke-width="1"/>
<rect x="338.00" y="463.75" width="5.90" height="9.75" fill="#000000" stroke="#000000" stroke-width="1"/>
<rect x="354.25" y="440.40" width="5.85" height="33.10" fill="#ffffff" stroke="#8a8a8a" stroke-width="1"/>
<rect x="360.10" y="457.90" width="5.90" height="15.60" fill="#888888" stroke="#5a5a5a" stroke-width="1"/>
<rect x="366.00" y="438.40" width="5.90" height="35.10" fill="#000000" stroke="#000000" stroke-width="1"/>
<rect x="382.25" y="415.60" width="5.85" height="57.90" fill="#ffffff" stroke="#8a8a8a" stroke-width="1"/>
<rect x="388.10" y="440.00" width="5.90" height="33.50" fill="#888888" stroke="#5a5a5a" stroke-width="1"/>
<rect x="394.00" y="446.00" width="5.90" height="27.50" fill="#000000" stroke="#000000" stroke-width="1"/>
<rect x="410.25" y="384.40" width="5.85" height="89.10" fill="#ffffff" stroke="#8a8a8a" stroke-width="1"/>
<rect x="416.10" y="419.10" width="5.90" height="54.40" fill="#888888" stroke="#5a5a5a" stroke-width="1"/>
<rect x="422.00" y="397.90" width="5.90" height="75.60" fill="#000000" stroke="#000000" stroke-width="1"/>
<rect x="438.25" y="434.40" width="5.85" height="39.10" fill="#ffffff" stroke="#8a8a8a" stroke-width="1"/>
<rect x="444.10" y="427.10" width="5.90" height="46.40" fill="#888888" stroke="#5a5a5a" stroke-width="1"/>
<rect x="450.00" y="431.50" width="5.90" height="42.00" fill="#000000" stroke="#000000" stroke-width="1"/>
<rect x="466.25" y="421.25" width="5.85" height="52.25" fill="#ffffff" stroke="#8a8a8a" stroke-width="1"/>
<rect x="472.10" y="434.40" width="5.90" height="39.10" fill="#888888" stroke="#5a5a5a" stroke-width="1"/>
<rect x="478.00" y="450.00" width="5.90" height="23.50" fill="#000000" stroke="#000000" stroke-width="1"/>
</svg>
</body></html>
